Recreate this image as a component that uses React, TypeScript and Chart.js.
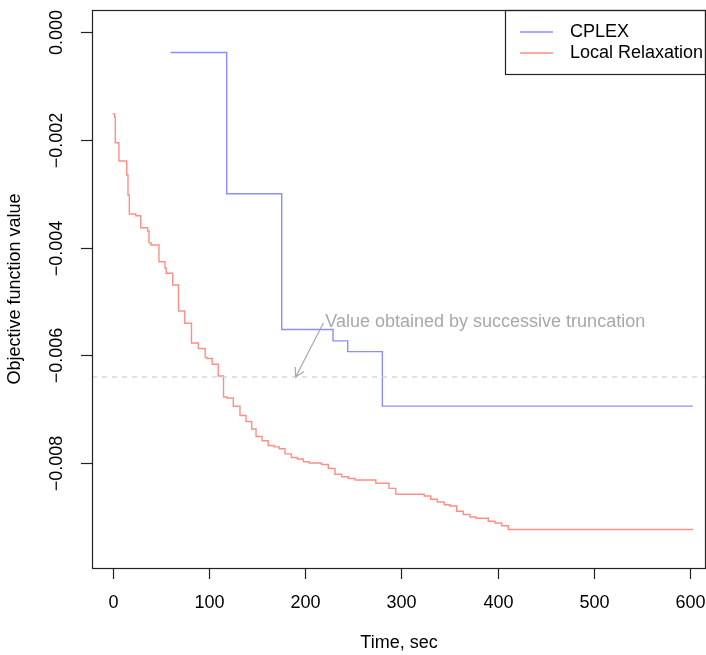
import React, { useEffect, useRef } from 'react';
import { Chart, registerables } from 'chart.js';

Chart.register(...registerables);

// CPLEX incumbent (time of change, new value)
const cplexTime = [60, 118.5, 175.7, 229, 244.3, 280.3, 603];
const cplexValue = [-0.00038, -0.0030, -0.00552, -0.00573, -0.00593, -0.00694, -0.00694];

// Local Relaxation incumbent (time of change, new value)
const relaxTime = [
  0, 2.1, 2.7, 6.5, 14.6, 15.9, 17.3, 23.9, 29.1, 36.4, 37.7, 39.8, 48.1, 54.4, 55.7,
  62.4, 68.4, 74.9, 81.9, 89.0, 96.2, 98.0, 103.4, 109.7, 115.2, 118.8, 125.4, 132.3,
  138.6, 144.5, 149.0, 155.2, 161.6, 167.7, 173.1, 179.1, 185.7, 191.9, 198.1, 204.4,
  217.0, 224.1, 231.1, 238.0, 244.9, 251.9, 273.5, 287.2, 294.3, 323.8, 330.6, 337.4,
  344.6, 350.6, 357.6, 364.4, 371.4, 377.7, 390.4, 397.4, 404.4, 411.2, 603.2,
];
const relaxValue = [
  -0.001521, -0.001577, -0.002054, -0.002393, -0.002653, -0.003024, -0.003377, -0.003408,
  -0.003631, -0.003692, -0.003909, -0.003952, -0.004262, -0.004384, -0.004477, -0.004694,
  -0.005176, -0.005404, -0.00577, -0.005872, -0.006039, -0.006058, -0.006165, -0.006382,
  -0.006772, -0.00679, -0.006944, -0.007115, -0.007226, -0.007365, -0.007505, -0.007583,
  -0.007672, -0.007696, -0.007731, -0.007826, -0.007894, -0.007922, -0.007972, -0.007996,
  -0.008024, -0.008098, -0.008206, -0.008252, -0.008284, -0.008312, -0.008373, -0.008466,
  -0.008577, -0.008609, -0.008668, -0.00872, -0.00877, -0.008794, -0.008892, -0.008952,
  -0.008998, -0.009022, -0.009078, -0.009109, -0.009161, -0.00923, -0.00923,
];

const truncationValue = -0.0064;

const xTicks = [0, 100, 200, 300, 400, 500, 600];
const xTickLabels = ['0', '100', '200', '300', '400', '500', '600'];
const yTicks = [0, -0.002, -0.004, -0.006, -0.008];
const yTickLabels = ['0.000', '\u22120.002', '\u22120.004', '\u22120.006', '\u22120.008'];

const seriesNames = ['CPLEX', 'Local Relaxation'];
const xTitle = 'Time, sec';
const yTitle = 'Objective function value';
const annotationText = 'Value obtained by successive truncation';

const xMin = -21.5;
const xMax = 616.7;
const yMin = -0.009944;
const yMax = 0.000408;

const BLUE = '#8c8cff';
const RED = '#ff8f85';
const GRAY = '#a8a8a8';
const FONT = '18px "Liberation Sans", Arial, Helvetica, sans-serif';

const decorPlugin = {
  id: 'decor',
  afterDraw(chart: any) {
    const ctx = chart.ctx as CanvasRenderingContext2D;
    const { left, right, top, bottom } = chart.chartArea;
    const xs = chart.scales.x;
    const ys = chart.scales.y;
    ctx.save();

    // frame
    ctx.strokeStyle = '#222';
    ctx.lineWidth = 1.2;
    ctx.strokeRect(left + 0.5, top + 0.5, right - left - 1, bottom - top);

    ctx.fillStyle = '#000';
    ctx.font = FONT;

    // x ticks
    ctx.textAlign = 'center';
    ctx.textBaseline = 'middle';
    xTicks.forEach((t, i) => {
      const px = Math.round(xs.getPixelForValue(t)) + 0.5;
      ctx.beginPath();
      ctx.moveTo(px, bottom);
      ctx.lineTo(px, bottom + 11);
      ctx.stroke();
      ctx.fillText(xTickLabels[i], px, bottom + 35);
    });

    // y ticks (labels parallel to axis)
    yTicks.forEach((v, i) => {
      const py = Math.round(ys.getPixelForValue(v)) + 0.5;
      ctx.beginPath();
      ctx.moveTo(left - 11, py);
      ctx.lineTo(left, py);
      ctx.stroke();
      ctx.save();
      ctx.translate(left - 35, py);
      ctx.rotate(-Math.PI / 2);
      ctx.fillText(yTickLabels[i], 0, 0);
      ctx.restore();
    });

    // axis titles
    ctx.fillText(xTitle, (left + right) / 2, 643);
    ctx.save();
    ctx.translate(15, (top + bottom) / 2);
    ctx.rotate(-Math.PI / 2);
    ctx.fillText(yTitle, 0, 0);
    ctx.restore();

    // legend
    const lx = 505;
    const ly = top;
    ctx.strokeStyle = '#222';
    ctx.lineWidth = 1.2;
    ctx.strokeRect(lx + 0.5, ly + 0.5, right - lx - 1, 64);
    const legendColors = [BLUE, RED];
    seriesNames.forEach((name, i) => {
      const yy = ly + 22 + i * 21;
      ctx.strokeStyle = legendColors[i];
      ctx.lineWidth = 1.3;
      ctx.beginPath();
      ctx.moveTo(520, yy);
      ctx.lineTo(553, yy);
      ctx.stroke();
      ctx.fillStyle = '#000';
      ctx.textAlign = 'left';
      ctx.fillText(name, 570, yy);
    });

    // annotation
    const tx = xs.getPixelForValue(221);
    const ty = ys.getPixelForValue(-0.00538);
    ctx.fillStyle = GRAY;
    ctx.textAlign = 'left';
    ctx.fillText(annotationText, tx, ty);
    const ax0 = xs.getPixelForValue(219);
    const ay0 = ys.getPixelForValue(-0.0054);
    const ax1 = xs.getPixelForValue(190.2);
    const ay1 = ys.getPixelForValue(truncationValue);
    ctx.strokeStyle = GRAY;
    ctx.lineWidth = 1.2;
    ctx.beginPath();
    ctx.moveTo(ax0, ay0);
    ctx.lineTo(ax1, ay1);
    const ang = Math.atan2(ay1 - ay0, ax1 - ax0);
    const hl = 10;
    const ha = Math.PI / 6;
    ctx.moveTo(ax1 - hl * Math.cos(ang - ha), ay1 - hl * Math.sin(ang - ha));
    ctx.lineTo(ax1, ay1);
    ctx.lineTo(ax1 - hl * Math.cos(ang + ha), ay1 - hl * Math.sin(ang + ha));
    ctx.stroke();

    ctx.restore();
  },
};

export default function App() {
  const canvasRef = useRef<HTMLCanvasElement | null>(null);

  useEffect(() => {
    if (!canvasRef.current) return;
    const chart = new Chart(canvasRef.current, {
      type: 'line',
      data: {
        datasets: [
          {
            label: 'truncation',
            data: [
              { x: xMin, y: truncationValue },
              { x: xMax, y: truncationValue },
            ],
            borderColor: '#cfcfcf',
            borderWidth: 1.2,
            borderDash: [5, 5],
            pointRadius: 0,
          },
          {
            label: seriesNames[1],
            data: relaxTime.map((t, i) => ({ x: t, y: relaxValue[i] })),
            borderColor: RED,
            borderWidth: 1.4,
            pointRadius: 0,
            stepped: 'before',
          },
          {
            label: seriesNames[0],
            data: cplexTime.map((t, i) => ({ x: t, y: cplexValue[i] })),
            borderColor: BLUE,
            borderWidth: 1.4,
            pointRadius: 0,
            stepped: 'before',
          },
        ],
      },
      options: {
        responsive: false,
        animation: false,
        layout: { padding: { left: 92, right: 0, top: 10, bottom: 87 } },
        plugins: { legend: { display: false }, tooltip: { enabled: false } },
        scales: {
          x: { type: 'linear', min: xMin, max: xMax, display: false },
          y: { type: 'linear', min: yMin, max: yMax, display: false },
        },
      },
      plugins: [decorPlugin],
    });
    return () => chart.destroy();
  }, []);

  return (
    <div style={{ position: 'fixed', left: 0, top: 0, width: 706, height: 655, background: '#fff' }}>
      <canvas ref={canvasRef} width={706} height={655} style={{ display: 'block' }} />
    </div>
  );
}
